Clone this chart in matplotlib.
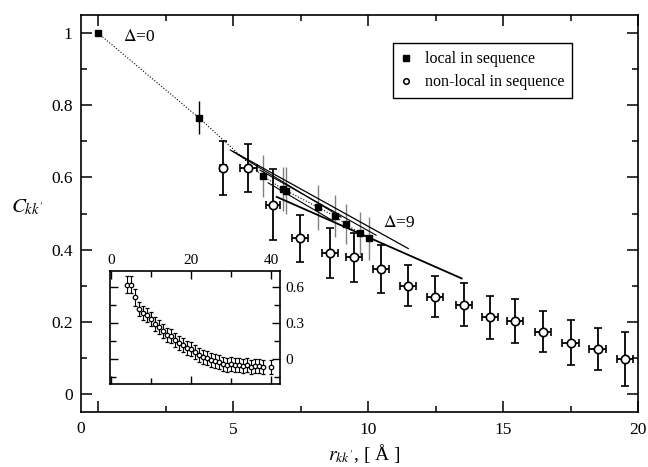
import numpy as np
import matplotlib
matplotlib.use('Agg')
import matplotlib.pyplot as plt
import matplotlib.transforms as mtransforms
from matplotlib.lines import Line2D

plt.rcParams['font.family'] = ['Liberation Serif', 'DejaVu Serif']
plt.rcParams['mathtext.fontset'] = 'stix'

# local in sequence (filled squares)
sq_x = [0.0, 3.74, 6.1, 6.84, 6.98, 8.15, 8.78, 9.17, 9.7, 10.05]
sq_y = [1.0, 0.765, 0.604, 0.568, 0.563, 0.517, 0.492, 0.471, 0.445, 0.431]
sq_err = [0.0, 0.046, 0.058, 0.06, 0.065, 0.062, 0.058, 0.056, 0.06, 0.06]

# non-local in sequence (open circles)
ci_x = [4.62, 5.57, 6.49, 7.48, 8.59, 9.49, 10.48, 11.49, 12.49, 13.56,
        14.52, 15.44, 16.47, 17.5, 18.5, 19.52]
ci_y = [0.627, 0.627, 0.524, 0.431, 0.390, 0.379, 0.346, 0.300, 0.270, 0.247,
        0.212, 0.202, 0.173, 0.142, 0.124, 0.097]
ci_yerr = [0.075, 0.067, 0.098, 0.066, 0.069, 0.068, 0.066, 0.057, 0.058, 0.06,
           0.059, 0.062, 0.057, 0.062, 0.059, 0.074]
ci_xerr = [0.12, 0.3, 0.26, 0.3, 0.3, 0.3, 0.3, 0.3, 0.3, 0.3,
           0.3, 0.3, 0.3, 0.3, 0.3, 0.3]

# linear fits for various Delta
fit_x0 = [4.9, 5.0, 6.0, 6.3, 6.62]
fit_x1 = [9.0, 11.49, 10.3, 8.7, 13.47]
fit_y0 = [0.676, 0.672, 0.62, 0.585, 0.546]
fit_y1 = [0.49, 0.403, 0.44, 0.48, 0.320]
fit_lw = [0.8, 0.9, 0.8, 0.8, 1.3]

# inset
ins_x = list(range(4, 39)) + [40]
ins_y = [0.62, 0.62, 0.514, 0.42, 0.383, 0.37, 0.336, 0.292, 0.264, 0.236,
         0.203, 0.192, 0.161, 0.133, 0.114, 0.092, 0.08, 0.055, 0.031, 0.017,
         0.008, -0.006, -0.019, -0.028, -0.039, -0.047, -0.044, -0.053, -0.053,
         -0.056, -0.053, -0.064, -0.061, -0.061, -0.064, -0.064]
ins_err = [0.074, 0.074, 0.07] + [0.058] * 33

fig = plt.figure(figsize=(6.48, 4.67), dpi=100)
ax = fig.add_axes([0.125, 0.1178, 0.8596, 0.850])

# dotted line through local points
ax.plot(sq_x, sq_y, ':', color='k', lw=0.8, zorder=2)

for a, b, c, d, w in zip(fit_x0, fit_x1, fit_y0, fit_y1, fit_lw):
    ax.plot([a, b], [c, d], '-', color='k', lw=w, zorder=3)

ecols = ['k', 'k'] + ['0.5'] * (len(sq_x) - 2)
ax.vlines(sq_x, np.array(sq_y) - np.array(sq_err), np.array(sq_y) + np.array(sq_err),
          colors=ecols, lw=1.0, zorder=2)
ax.plot(sq_x, sq_y, 's', color='k', ms=4.5, ls='none', zorder=4)

ax.errorbar(ci_x, ci_y, yerr=ci_yerr, xerr=ci_xerr, fmt='o', mfc='white', mec='k',
            mew=1.2, ms=6.0, ecolor='k', elinewidth=1.3, capsize=2.8, capthick=1.3,
            zorder=5)

ax.set_xlim(-0.63, 20.0)
ax.set_ylim(-0.05, 1.05)
ax.set_xticks([0, 5, 10, 15, 20])
ax.set_xticklabels(['', '5', '10', '15', '20'])
ax.set_xticks(np.arange(0, 20.1, 2.5), minor=True)
ax.set_yticks([0, 0.2, 0.4, 0.6, 0.8, 1.0])
ax.set_yticklabels(['0', '0.2', '0.4', '0.6', '0.8', '1'])
ax.set_yticks(np.arange(0, 1.01, 0.1), minor=True)
ax.tick_params(which='both', direction='in', top=True, right=True, labelsize=12.5,
               width=1.1)
ax.tick_params(which='major', length=8)
ax.tick_params(which='minor', length=4.3)
ax.tick_params(axis='x', pad=7)
ax.tick_params(axis='y', pad=6)
for s in ax.spines.values():
    s.set_linewidth(1.2)

trans = mtransforms.blended_transform_factory(ax.transData, ax.transAxes)
ax.text(-0.63, -0.0235, '0', transform=trans, ha='center', va='top', fontsize=12.5)

ax.set_ylabel(r"$C_{kk'}$", rotation=0, fontsize=15)
ax.yaxis.set_label_coords(-0.097, 0.49)
ax.set_xlabel(r"$r_{kk'}$, [ Å ]", fontsize=14)
ax.xaxis.set_label_coords(0.508, -0.075)

ax.text(0.93, 0.989, r'$\Delta$=0', fontsize=12.5, va='center', ha='left')
ax.text(10.56, 0.474, r'$\Delta$=9', fontsize=12.5, va='center', ha='left')

handles = [Line2D([], [], marker='s', color='k', ls='none', ms=4),
           Line2D([], [], marker='o', mfc='white', mec='k', mew=1.1, ls='none', ms=4)]
leg = ax.legend(handles, ['local in sequence', 'non-local in sequence'],
                loc='upper left', bbox_to_anchor=(0.56, 0.929), borderaxespad=0,
                fontsize=11.5, fancybox=False, edgecolor='k', framealpha=1,
                handlelength=0.6, handletextpad=0.9,
                borderpad=0.5, labelspacing=0.45)
leg.get_frame().set_linewidth(1.0)

# inset
axi = fig.add_axes([0.1698, 0.1777, 0.2623, 0.242])
axi.errorbar(ins_x, ins_y, yerr=ins_err, fmt='o', mfc='white', mec='k', mew=0.9,
             ms=3.2, ecolor='k', elinewidth=0.8, capsize=1.6, capthick=0.8)
axi.set_xlim(-0.25, 42.25)
axi.set_ylim(-0.208, 0.733)
axi.set_xticks([0, 20, 40])
axi.set_xticks(np.arange(0, 41, 10), minor=True)
axi.set_yticks([0, 0.3, 0.6])
axi.set_yticklabels(['0', '0.3', '0.6'])
axi.set_yticks([-0.15, 0, 0.15, 0.3, 0.45, 0.6], minor=True)
axi.tick_params(which='both', direction='in', top=True, right=True, bottom=True,
                left=True, labeltop=True, labelbottom=False, labelright=True,
                labelleft=False, labelsize=11, width=1.0)
axi.tick_params(which='major', length=6)
axi.tick_params(which='minor', length=4.5)
axi.tick_params(axis='x', pad=3)
axi.tick_params(axis='y', pad=4)
for s in axi.spines.values():
    s.set_linewidth(1.2)

fig.savefig('out.png', dpi=100)
